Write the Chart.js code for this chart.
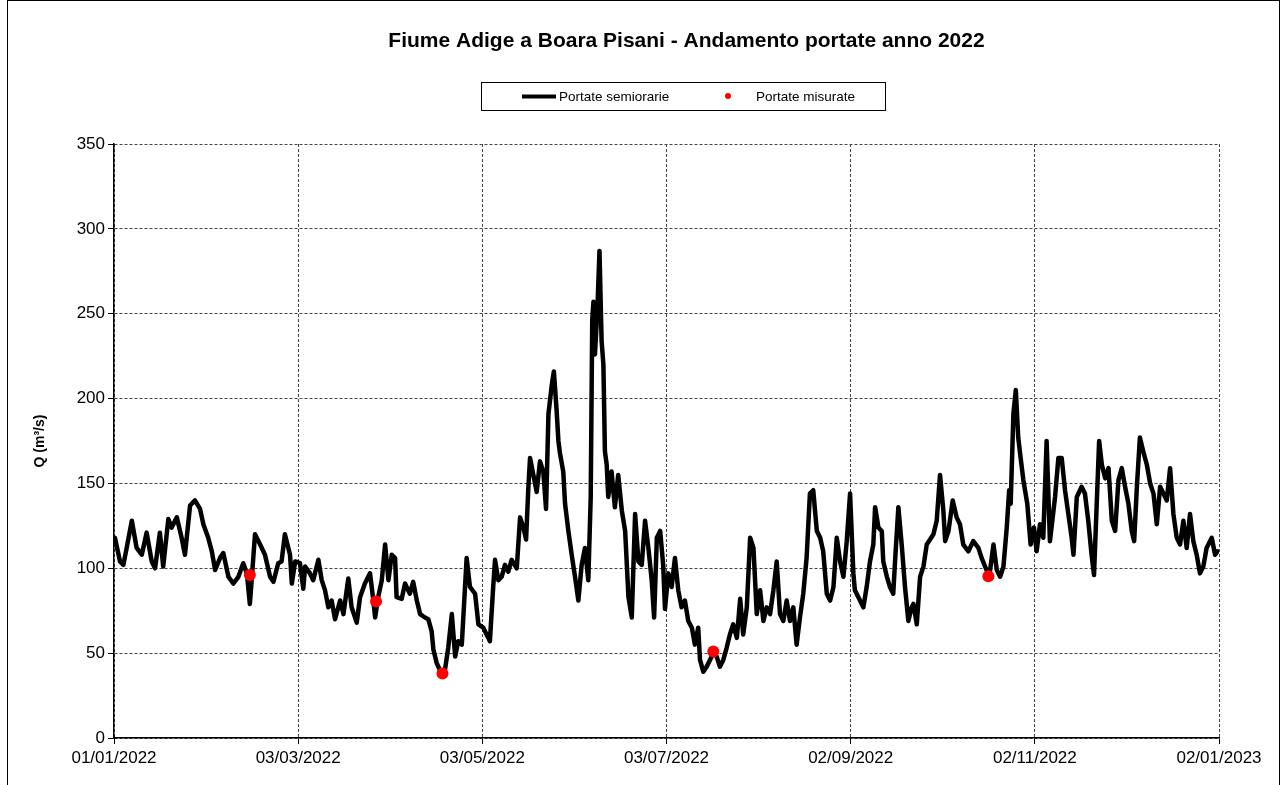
<!DOCTYPE html>
<html>
<head>
<meta charset="utf-8">
<title>Fiume Adige a Boara Pisani - Andamento portate anno 2022</title>
<script src="https://cdn.jsdelivr.net/npm/chart.js@4.4.1/dist/chart.umd.min.js"></script>
<style>
  html, body { margin: 0; padding: 0; background: #fff; }
  #wrap { width: 1281px; height: 785px; position: relative; }
</style>
</head>
<body>
<div id="wrap"><canvas id="chart" width="1281" height="785"></canvas></div>
<script>
// days counted from 01/01/2022
const flowDays = [
    0, 0.3, 2.0, 3.1, 4.2, 5.9, 7.5, 9.2, 10.8, 12.5, 13.6, 15.2, 16.3, 18.0, 19.1, 20.8, 22.4, 23.5, 25.2, 26.8,
    28.5, 29.6, 31.2, 32.4, 33.5, 35.1, 36.2, 37.9, 39.5, 41.2, 42.8, 44.0, 45.0, 45.6, 46.7, 48.4, 50.0, 51.7, 52.8, 54.4,
    55.5, 56.6, 58.3, 58.9, 60.0, 61.6, 62.7, 63.3, 64.9, 66.0, 67.7, 68.8, 69.9, 71.0, 72.1, 73.2, 74.9, 76.0, 77.6, 78.7,
    80.4, 81.5, 83.1, 84.8, 85.9, 86.5, 87.5, 88.7, 89.8, 90.9, 92.0, 93.1, 93.6, 95.3, 96.4, 98.0, 99.1, 100.3, 101.4, 103.0,
    104.1, 105.2, 105.8, 106.9, 108.5, 109.6, 110.7, 111.9, 113.0, 114.0, 115.2, 116.8, 117.9, 119.6, 120.7, 122.3, 124.0, 124.5, 125.6, 126.2,
    127.3, 128.4, 129.5, 130.6, 131.7, 133.4, 134.5, 135.6, 136.5, 137.2, 137.8, 138.9, 140.0, 141.1, 142.2, 143.1, 143.9, 145.0, 145.7, 146.6,
    147.2, 147.7, 148.8, 149.4, 150.5, 151.6, 152.7, 153.8, 154.9, 156.0, 157.1, 157.9, 158.4, 158.8, 159.3, 160.1, 160.8, 161.5, 162.1, 162.6,
    163.2, 163.7, 164.8, 165.9, 167.0, 168.2, 169.3, 170.4, 171.5, 172.6, 173.7, 174.8, 175.9, 177.0, 178.1, 178.9, 179.8, 180.9, 181.9, 182.5,
    183.6, 184.7, 185.8, 186.9, 188.0, 189.1, 190.2, 191.4, 192.4, 193.5, 194.1, 195.2, 196.3, 197.4, 198.5, 199.6, 200.7, 201.8, 202.9, 204.0,
    205.1, 206.3, 207.4, 208.4, 209.6, 210.7, 211.8, 212.9, 214.0, 215.1, 216.2, 217.3, 218.4, 219.5, 220.6, 221.7, 222.8, 223.9, 225.0, 226.1,
    227.2, 228.3, 229.4, 230.5, 231.6, 232.8, 233.9, 234.9, 236.1, 237.2, 238.3, 239.4, 240.5, 241.6, 242.7, 243.8, 244.9, 245.4, 247.1, 248.2,
    249.3, 250.4, 251.5, 252.1, 253.2, 254.3, 254.8, 256.0, 257.0, 258.1, 258.7, 259.8, 260.9, 262.0, 263.1, 264.2, 264.8, 265.9, 267.0, 268.1,
    269.2, 270.3, 271.4, 272.5, 273.6, 274.7, 275.3, 276.4, 277.8, 279.1, 280.2, 281.3, 283.0, 284.6, 286.3, 287.4, 289.0, 289.9, 291.3, 292.4,
    293.5, 294.6, 295.7, 296.5, 297.0, 297.9, 298.7, 299.5, 300.3, 301.2, 302.5, 303.6, 304.7, 305.6, 306.7, 307.8, 308.9, 310.0, 311.7, 312.8,
    313.9, 315.0, 316.1, 317.2, 317.8, 318.9, 320.5, 321.6, 322.7, 323.8, 324.6, 325.5, 326.3, 327.2, 328.3, 329.4, 330.5, 331.6, 332.7, 333.8,
    334.9, 336.0, 337.1, 337.9, 338.8, 339.8, 340.9, 342.1, 343.2, 344.3, 345.4, 346.5, 347.6, 348.7, 349.8, 350.9, 352.0, 353.1, 354.2, 355.3,
    356.4, 357.5, 358.6, 359.7, 360.8, 361.9, 363.6, 364.7, 365.5,
];
const flowValues = [
    115, 118, 104, 102, 112, 128, 112, 108, 121, 104, 100, 121, 101, 129, 124, 130, 118, 108, 137, 140,
    135, 126, 118, 110, 99, 106, 109, 95, 91, 95, 103, 97, 79, 93, 120, 114, 108, 95, 92, 103,
    104, 120, 108, 91, 104, 103, 88, 101, 97, 93, 105, 93, 87, 77, 81, 70, 81, 73, 94, 77,
    68, 83, 91, 97, 81, 71, 83, 93, 114, 93, 108, 106, 83, 82, 91, 85, 92, 81, 73, 71,
    70, 63, 52, 44, 38, 40, 53, 73, 48, 57, 55, 106, 89, 85, 67, 65, 59, 57, 89, 105,
    93, 95, 102, 98, 105, 100, 130, 124, 117, 146, 165, 155, 145, 163, 157, 135, 191, 208, 216, 193,
    175, 168, 157, 138, 122, 108, 95, 81, 102, 112, 93, 142, 246, 257, 226, 252, 287, 234, 220, 169,
    161, 142, 157, 136, 155, 134, 122, 83, 71, 132, 104, 102, 128, 112, 93, 71, 118, 122, 102, 76,
    97, 89, 106, 87, 77, 81, 69, 65, 55, 65, 46, 39, 42, 46, 50, 48, 42, 46, 53, 61,
    67, 59, 82, 61, 77, 118, 112, 73, 87, 69, 77, 73, 87, 104, 73, 69, 81, 69, 77, 55,
    71, 85, 106, 144, 146, 122, 118, 110, 85, 81, 89, 118, 104, 95, 116, 144, 97, 87, 81, 77,
    89, 104, 114, 136, 124, 122, 104, 95, 89, 85, 104, 136, 114, 89, 69, 77, 79, 67, 95, 101,
    114, 117, 120, 128, 155, 134, 116, 122, 140, 130, 126, 114, 110, 116, 112, 106, 99, 95, 114, 99,
    95, 101, 124, 146, 138, 191, 205, 177, 165, 152, 138, 114, 124, 110, 126, 118, 175, 116, 142, 165,
    165, 146, 132, 118, 108, 142, 148, 144, 128, 108, 96, 138, 175, 161, 153, 159, 128, 122, 152, 159,
    148, 138, 122, 116, 148, 177, 169, 161, 150, 144, 126, 148, 144, 140, 159, 132, 118, 114, 128, 112,
    132, 116, 108, 97, 101, 112, 118, 108, 110,
];

const measuredDays = [45.0, 86.8, 108.8, 198.5, 289.6];
const measuredValues = [96, 80.5, 38, 51, 95.3];

const tickDays = [0, 61, 122, 183, 244, 305, 366];
const tickLabels = ["01/01/2022", "03/03/2022", "03/05/2022", "03/07/2022", "02/09/2022", "02/11/2022", "02/01/2023"];

const chartTitle = "Fiume Adige a Boara Pisani - Andamento portate anno 2022";

const FONT = "Arial, 'Liberation Sans', Helvetica, sans-serif";

// title, framed legend and outer border, drawn like the spreadsheet export
const headerAndLegend = {
    id: "headerAndLegend",
    afterDraw(chart) {
        const ctx = chart.ctx;
        const [line, dots] = chart.data.datasets;
        ctx.save();
        ctx.strokeStyle = "#000";
        ctx.lineWidth = 1;
        ctx.strokeRect(7.5, 0.5, 1272, 800);

        ctx.fillStyle = "#000";
        ctx.font = "bold 21px " + FONT;
        ctx.textAlign = "center";
        ctx.textBaseline = "middle";
        ctx.fillText(chartTitle, 686.5, 41);

        ctx.strokeRect(481.5, 82.5, 404, 28);
        ctx.strokeStyle = line.borderColor;
        ctx.lineWidth = 4;
        ctx.beginPath();
        ctx.moveTo(522, 96.5);
        ctx.lineTo(556, 96.5);
        ctx.stroke();
        ctx.fillStyle = dots.backgroundColor;
        ctx.beginPath();
        ctx.arc(728, 96, 3, 0, Math.PI * 2);
        ctx.fill();
        ctx.fillStyle = "#000";
        ctx.font = "13.5px " + FONT;
        ctx.textAlign = "left";
        ctx.fillText(line.label, 559, 97);
        ctx.fillText(dots.label, 756, 97);
        ctx.restore();
    },
};

new Chart(document.getElementById("chart"), {
    type: "line",
    data: {
        datasets: [
            {
                label: "Portate semiorarie",
                data: flowDays.map((d, i) => ({ x: d, y: flowValues[i] })),
                borderColor: "#000000",
                borderWidth: 4.5,
                borderJoinStyle: "round",
                borderCapStyle: "round",
                pointRadius: 0,
                tension: 0,
                order: 2,
            },
            {
                label: "Portate misurate",
                data: measuredDays.map((d, i) => ({ x: d, y: measuredValues[i] })),
                showLine: false,
                backgroundColor: "#ff0000",
                borderColor: "#ff0000",
                pointRadius: 6,
                pointBorderWidth: 0,
                order: 1,
            },
        ],
    },
    options: {
        responsive: false,
        animation: false,
        layout: { padding: { left: 0, top: 144, right: 62, bottom: 0 } },
        plugins: {
            legend: { display: false },
            tooltip: { enabled: false },
            title: { display: false },
        },
        scales: {
            x: {
                type: "linear",
                min: 0,
                max: 366,
                afterFit: (scale) => { scale.height = 47; },
                afterBuildTicks: (scale) => { scale.ticks = tickDays.map((v) => ({ value: v })); },
                ticks: {
                    autoSkip: false,
                    maxRotation: 0,
                    color: "#000",
                    padding: 4,
                    font: { family: FONT, size: 17 },
                    callback: (v) => tickLabels[tickDays.indexOf(v)],
                },
                grid: {
                    color: "#444",
                    lineWidth: 1,
                    tickLength: 6,
                    tickColor: "#000",
                    tickBorderDash: [],
                },
                border: { display: true, color: "#000", width: 1.5, dash: [3, 2] },
            },
            y: {
                min: 0,
                max: 350,
                afterFit: (scale) => { scale.width = 114; },
                ticks: {
                    stepSize: 50,
                    color: "#000",
                    padding: 3,
                    font: { family: FONT, size: 17 },
                },
                grid: {
                    color: "#444",
                    lineWidth: 1,
                    tickLength: 6,
                    tickColor: "#000",
                    tickBorderDash: [],
                },
                border: { display: true, color: "#000", width: 1.5, dash: [3, 2] },
                title: {
                    display: true,
                    text: "Q (m³/s)",
                    color: "#000",
                    font: { family: FONT, size: 14, weight: "bold" },
                    padding: { top: 32 },
                },
            },
        },
    },
    plugins: [headerAndLegend],
});
</script>
</body>
</html>
